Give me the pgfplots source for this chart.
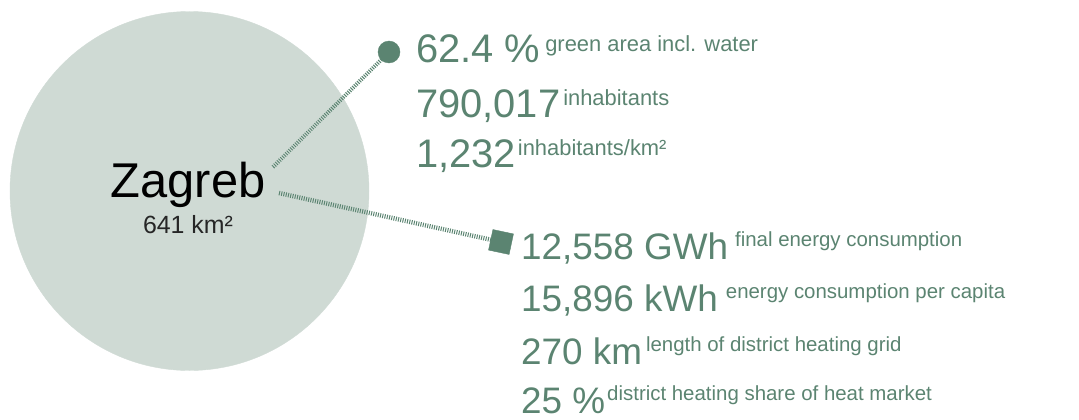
\documentclass[border=0pt]{standalone}
\usepackage{pgfplots}
\pgfplotsset{compat=1.18}
\usepackage{fontspec}
\setmainfont{Liberation Sans}
\definecolor{zg}{HTML}{5B8471}
\definecolor{zfill}{HTML}{CFDAD4}
\newcommand{\BigA}{\fontsize{40}{40}\selectfont}
\newcommand{\SmallA}{\fontsize{22}{22}\selectfont}
\newcommand{\BigB}{\fontsize{37}{37}\selectfont}
\newcommand{\SmallB}{\fontsize{20.5}{20.5}\selectfont}
\begin{document}
\begin{tikzpicture}
\begin{axis}[
  width=1079bp, height=419bp, scale only axis,
  xmin=0, xmax=1079, ymin=0, ymax=419, y dir=reverse,
  hide axis, clip=false, clip marker paths=true,
]
% city circle (area)
\addplot[zfill, only marks, mark=*, mark size=179.5bp, mark options={draw=zfill, fill=zfill}] coordinates {(189.5,191)};
% connector lines
\addplot[zg, line width=4bp, dash pattern=on 1bp off 1.3bp] coordinates {(273,167) (384,57)};
\addplot[zg, line width=4.5bp, dash pattern=on 1bp off 1.3bp] coordinates {(279,193) (492,240)};
% end markers
\addplot[zg, only marks, mark=*, mark size=11bp, mark options={draw=zg, fill=zg}] coordinates {(389,52)};
\addplot[zg, only marks, mark=square*, mark size=10.5bp, mark options={draw=zg, fill=zg, rotate=-12}] coordinates {(501,242)};
% city label
\node[anchor=base, inner sep=0, text=black] at (axis cs:188,197) {\fontsize{49}{49}\selectfont Zagreb};
\node[anchor=base, inner sep=0, text=black!85] at (axis cs:188,233) {\fontsize{25}{25}\selectfont 641 km²};
% group 1
\node[anchor=base west, inner sep=0, text=zg] at (axis cs:416,63) {\BigA 62.4 \%\hspace{5bp}\raisebox{11bp}{\SmallA green area incl. water}};
\node[anchor=base west, inner sep=0, text=zg] at (axis cs:416,117) {\BigA 790,017\hspace{3bp}\raisebox{12bp}{\SmallA inhabitants}};
\node[anchor=base west, inner sep=0, text=zg] at (axis cs:416,167) {\BigA 1,232\hspace{2bp}\raisebox{12bp}{\SmallA inhabitants/km²}};
% group 2
\node[anchor=base west, inner sep=0, text=zg] at (axis cs:521,259) {\BigB 12,558 GWh\hspace{7bp}\raisebox{13bp}{\SmallB final energy consumption}};
\node[anchor=base west, inner sep=0, text=zg] at (axis cs:521,311) {\BigB 15,896 kWh\hspace{8bp}\raisebox{13bp}{\SmallB energy consumption per capita}};
\node[anchor=base west, inner sep=0, text=zg] at (axis cs:521,364) {\BigB 270 km\hspace{4bp}\raisebox{13bp}{\SmallB length of district heating grid}};
\node[anchor=base west, inner sep=0, text=zg] at (axis cs:521,413) {\BigB 25 \%\hspace{2bp}\raisebox{13bp}{\SmallB district heating share of heat market}};
\end{axis}
\pgfresetboundingbox
\useasboundingbox (current axis.south west) rectangle (current axis.north east);
\end{tikzpicture}
\end{document}
